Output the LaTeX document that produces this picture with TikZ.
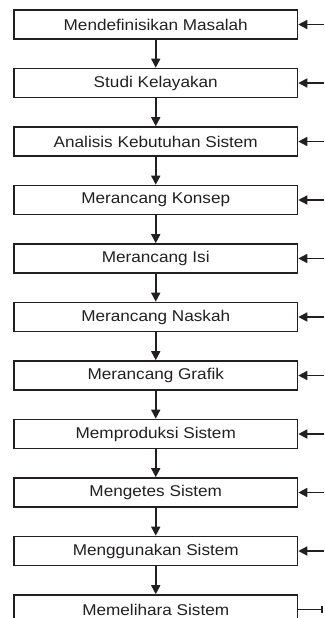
\documentclass[tikz,border=0pt]{standalone}
\usepackage{fontspec}
\setmainfont{Liberation Sans}[FakeStretch=1.1]
\usetikzlibrary{arrows.meta}
\definecolor{ink}{RGB}{35,31,32}

\tikzset{every picture/.style={line width=1.6pt}}
\tikzset{
  langkah/.style={draw=ink, text=ink, minimum width=283.5pt, minimum height=29pt,
    inner sep=0pt, font=\fontsize{15.6}{16}\selectfont},
  panah/.style={draw=ink, -{Triangle[length=9pt,width=9pt]}},
  ujung/.style={draw=ink, -{Bar[width=7pt]}}
}

\begin{document}
\begin{tikzpicture}[x=1pt,y=1pt,yscale=-1,xscale=1]
	\clip (0,0) rectangle (324,618);
	\useasboundingbox (0,0) rectangle (324,618);

	% Text Node
	\node [langkah] (s1) at (155.75,24.5) {Mendefinisikan Masalah};
	% Text Node
	\node [langkah] (s2) at (155.75,83) {Studi Kelayakan};
	% Text Node
	\node [langkah] (s3) at (155.75,141.5) {Analisis Kebutuhan Sistem};
	% Text Node
	\node [langkah] (s4) at (155.75,200) {Merancang Konsep};
	% Text Node
	\node [langkah] (s5) at (155.75,258.5) {Merancang Isi};
	% Text Node
	\node [langkah] (s6) at (155.75,317) {Merancang Naskah};
	% Text Node
	\node [langkah] (s7) at (155.75,375.5) {Merancang Grafik};
	% Text Node
	\node [langkah] (s8) at (155.75,434) {Memproduksi Sistem};
	% Text Node
	\node [langkah] (s9) at (155.75,492.5) {Mengetes Sistem};
	% Text Node
	\node [langkah] (s10) at (155.75,551) {Menggunakan Sistem};
	% Text Node
	\node [langkah] (s11) at (155.75,609.5) {Memelihara Sistem};

	%Straight Lines
	\draw [panah] (s1) -- (s2);
	\draw [panah] (s2) -- (s3);
	\draw [panah] (s3) -- (s4);
	\draw [panah] (s4) -- (s5);
	\draw [panah] (s5) -- (s6);
	\draw [panah] (s6) -- (s7);
	\draw [panah] (s7) -- (s8);
	\draw [panah] (s8) -- (s9);
	\draw [panah] (s9) -- (s10);
	\draw [panah] (s10) -- (s11);

	%Right side
	\coordinate (r1) at (324,24.5);
	\coordinate (r2) at (324,83);
	\coordinate (r3) at (324,141.5);
	\coordinate (r4) at (324,200);
	\coordinate (r5) at (324,258.5);
	\coordinate (r6) at (324,317);
	\coordinate (r7) at (324,375.5);
	\coordinate (r8) at (324,434);
	\coordinate (r9) at (324,492.5);
	\coordinate (r10) at (324,551);
	\coordinate (r11) at (323,609.5);
	\draw [panah] (r1) -- (s1);
	\draw [panah] (r2) -- (s2);
	\draw [panah] (r3) -- (s3);
	\draw [panah] (r4) -- (s4);
	\draw [panah] (r5) -- (s5);
	\draw [panah] (r6) -- (s6);
	\draw [panah] (r7) -- (s7);
	\draw [panah] (r8) -- (s8);
	\draw [panah] (r9) -- (s9);
	\draw [panah] (r10) -- (s10);
	\draw [ujung] (s11) -- (r11);

\end{tikzpicture}
\end{document}
